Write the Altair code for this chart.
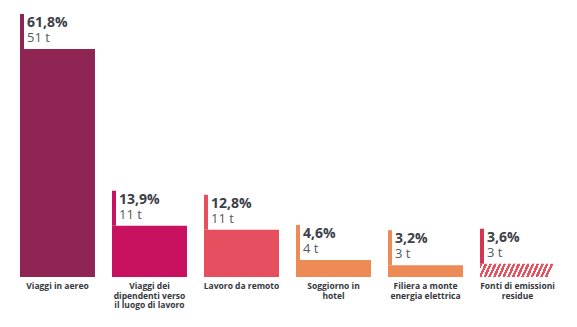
import altair as alt
import pandas as pd

categories = [
    "Viaggi in aereo",
    "Viaggi dei\ndipendenti verso\nil luogo di lavoro",
    "Lavoro da remoto",
    "Soggiorno in\nhotel",
    "Filiera a monte\nenergia elettrica",
    "Fonti di emissioni\nresidue",
]
pct = [61.8, 13.9, 12.8, 4.6, 3.2, 3.6]
pct_labels = ["61,8%", "13,9%", "12,8%", "4,6%", "3,2%", "3,6%"]
ton_labels = ["51 t", "11 t", "11 t", "4 t", "3 t", "3 t"]
bar_colors = ["#8E2552", "#C8125F", "#E54F60", "#EE8A56", "#EE8A56", "#E8505B"]
strip_colors = ["#8E2552", "#C8125F", "#E54F60", "#EE8A56", "#EE8A56", "#D63552"]
hatched = [False, False, False, False, False, True]

df = pd.DataFrame({
    "cat": categories, "pct": pct, "pct_label": pct_labels,
    "ton_label": ton_labels, "color": bar_colors, "strip": strip_colors,
    "hatched": hatched,
})

W, H = 535, 267
FONT = "Open Sans"
x = alt.X("cat:N", sort=None, axis=None,
          scale=alt.Scale(paddingInner=0.185, paddingOuter=0))
y = alt.Y("pct:Q", axis=None, scale=alt.Scale(domain=[0, 72.37], nice=False))

base = alt.Chart(df)

bars = base.transform_filter("!datum.hatched").mark_bar().encode(
    x=x, y=y, color=alt.Color("color:N", scale=None))

# diagonal stripe fill
n = 16
stops = []
for i in range(n):
    a = i / n
    b = (i + 0.55) / n
    c = (i + 1) / n
    stops += [
        {"offset": a, "color": "#E8505B"},
        {"offset": b, "color": "#E8505B"},
        {"offset": b, "color": "#FFFFFF"},
        {"offset": c, "color": "#FFFFFF"},
    ]
gradient = {"gradient": "linear", "x1": 0, "y1": 0, "x2": 1, "y2": 0.08,
            "stops": stops}
hatch = base.transform_filter("datum.hatched").mark_bar(fill=gradient).encode(
    x=x, y=y)

strips = base.mark_bar(width=4, xOffset=-35.5, yOffset=-35).encode(
    x=x, y=y, y2="pct:Q", color=alt.Color("strip:N", scale=None))

pct_text = base.mark_text(align="left", baseline="alphabetic", dx=-30.5, dy=-22,
                          fontSize=14, fontWeight="bold", font=FONT,
                          color="#3C4049").encode(x=x, y=y, text="pct_label:N")
ton_text = base.mark_text(align="left", baseline="alphabetic", dx=-30.5, dy=-7,
                          fontSize=13, font=FONT,
                          color="#555A63").encode(x=x, y=y, text="ton_label:N")
cat_text = base.mark_text(align="center", baseline="top", lineBreak="\n",
                          fontSize=8.5, lineHeight=9.5, fontWeight="bold", font=FONT,
                          color="#333740").encode(x=x, y=alt.value(H + 5),
                                                  text="cat:N")

chart = alt.layer(bars, hatch, strips, pct_text, ton_text, cat_text).properties(
    width=W, height=H,
    padding={"left": 20, "top": 10, "right": 22, "bottom": 50},
    autosize=alt.AutoSizeParams(type="none"),
    background="white",
).configure_view(stroke=None)

chart.save("out.html", embed_options={"renderer": "svg", "actions": False})
